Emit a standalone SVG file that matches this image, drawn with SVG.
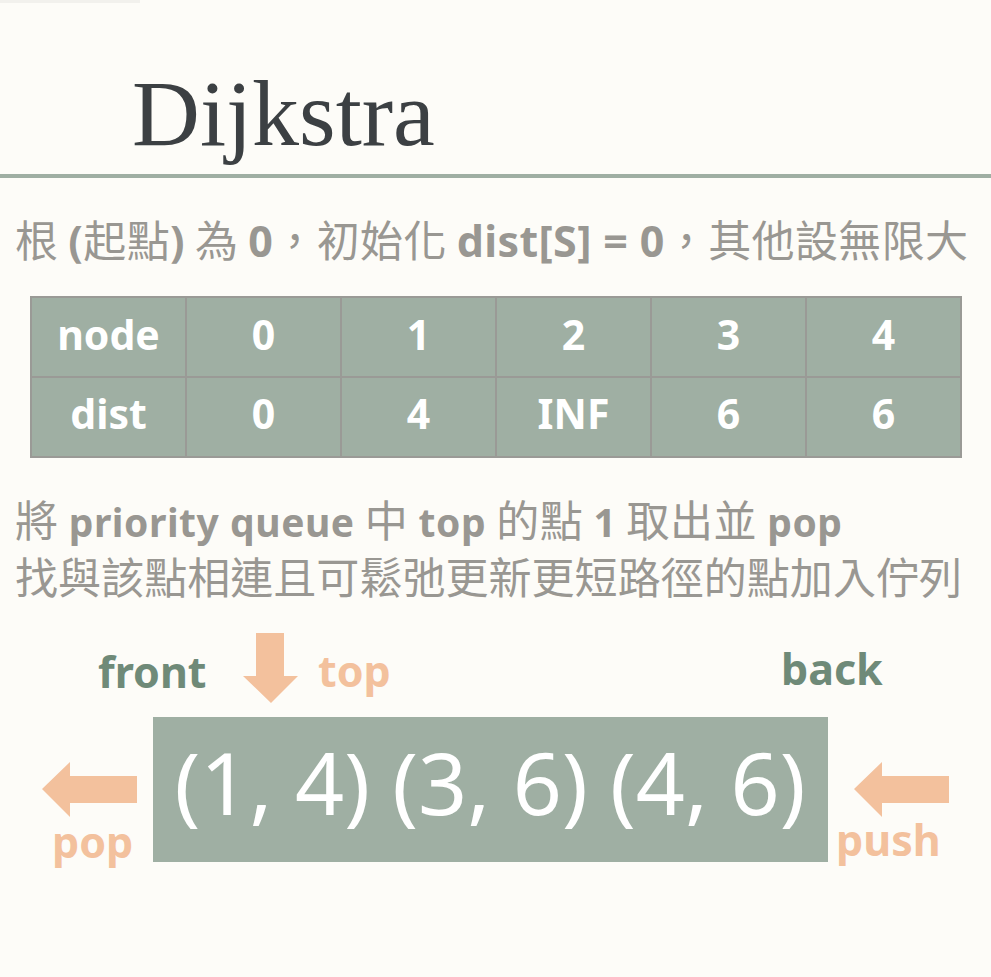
<svg xmlns="http://www.w3.org/2000/svg" width="991" height="977" viewBox="0 0 991 977">
<style>
.cjk{font-family:"Noto Sans CJK TC","Noto Sans",sans-serif;font-size:43px;fill:#999792}
.b{font-family:"Noto Sans","Noto Sans CJK TC",sans-serif;font-weight:700}
.s{font-size:39px}
.cell{fill:#9fafa3;stroke:#9a9a96;stroke-width:2}
.ct{font-family:"Noto Sans",sans-serif;font-weight:700;font-size:41px;fill:#ffffff;text-anchor:middle}
.lab{font-family:"Noto Sans",sans-serif;font-weight:700;font-size:43px}
.g{fill:#6f8a78}
.o{fill:#f3c19d}
</style>
<rect x="0" y="0" width="991" height="977" fill="#fdfcf8"/>
<rect x="0" y="0" width="140" height="3" fill="#f2f1ed"/>
<g id="title">
<text x="132" y="145" font-family="Liberation Serif, serif" font-size="94" fill="#3c4043">Dijkstra</text>
<rect x="0" y="174" width="991" height="4" fill="#9fafa3"/>
</g>
<g id="desc1">
<text class="cjk" x="15" y="257" textLength="953" lengthAdjust="spacing">根 <tspan class="b">(</tspan>起點<tspan class="b">)</tspan> 為 <tspan class="b">0</tspan>，初始化 <tspan class="b">dist[S] = 0</tspan>，其他設無限大</text>
</g>
<g id="table">
<rect class="cell" x="31" y="297" width="155" height="80"/>
<rect class="cell" x="186" y="297" width="155" height="80"/>
<rect class="cell" x="341" y="297" width="155" height="80"/>
<rect class="cell" x="496" y="297" width="155" height="80"/>
<rect class="cell" x="651" y="297" width="155" height="80"/>
<rect class="cell" x="806" y="297" width="155" height="80"/>
<rect class="cell" x="31" y="377" width="155" height="80"/>
<rect class="cell" x="186" y="377" width="155" height="80"/>
<rect class="cell" x="341" y="377" width="155" height="80"/>
<rect class="cell" x="496" y="377" width="155" height="80"/>
<rect class="cell" x="651" y="377" width="155" height="80"/>
<rect class="cell" x="806" y="377" width="155" height="80"/>
<text class="ct" x="108.5" y="350">node</text>
<text class="ct" x="263.5" y="350">0</text>
<text class="ct" x="418.5" y="350">1</text>
<text class="ct" x="573.5" y="350">2</text>
<text class="ct" x="728.5" y="350">3</text>
<text class="ct" x="883.5" y="350">4</text>
<text class="ct" x="108.5" y="429">dist</text>
<text class="ct" x="263.5" y="429">0</text>
<text class="ct" x="418.5" y="429">4</text>
<text class="ct" x="573.5" y="429">INF</text>
<text class="ct" x="728.5" y="429">6</text>
<text class="ct" x="883.5" y="429">6</text>
</g>
<g id="desc2">
<text class="cjk" x="15" y="537" textLength="827" lengthAdjust="spacing">將 <tspan class="b s">priority queue</tspan> 中 <tspan class="b s">top</tspan> 的點 <tspan class="b s">1</tspan> 取出並 <tspan class="b s">pop</tspan></text>
<text class="cjk" x="15" y="594" textLength="947" lengthAdjust="spacing">找與該點相連且可鬆弛更新更短路徑的點加入佇列</text>
</g>
<g id="queue">
<rect x="153" y="717" width="675" height="145" fill="#9fafa3"/>
<text x="490" y="815" font-family="Noto Sans, sans-serif" font-size="86" fill="#ffffff" text-anchor="middle">(1, 4) (3, 6) (4, 6)</text>
</g>
<g id="labels">
<text class="lab g" x="98" y="688">front</text>
<text class="lab o" x="318" y="687">top</text>
<text class="lab g" x="781" y="685">back</text>
<text class="lab o" x="52" y="858">pop</text>
<text class="lab o" x="836" y="856">push</text>
</g>
<g id="connectors">
<polygon class="o" points="256,633 284,633 284,676 298,676 271,703 243,676 256,676"/>
<polygon class="o" points="137,776 70,776 70,762 42,789 70,817 70,803 137,803"/>
<polygon class="o" points="949,776 882,776 882,762 854,789 882,817 882,803 949,803"/>
</g>
</svg>
